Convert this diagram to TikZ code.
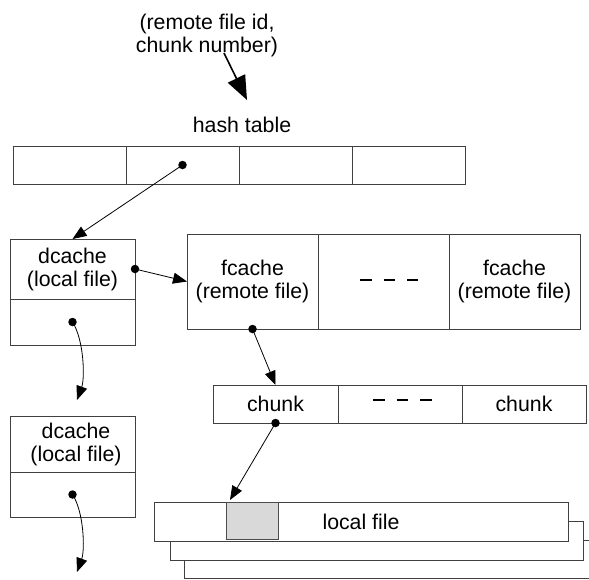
\documentclass[tikz,border=0pt]{standalone}
\usepackage{fontspec}
\setmainfont{Liberation Sans}
\usetikzlibrary{arrows.meta,calc}
\definecolor{edgegray}{HTML}{404040}
\definecolor{blockgray}{HTML}{D9D9D9}
\begin{document}
\begin{tikzpicture}[x=1pt,y=-1pt,
  every node/.style={font=\fontsize{21.3}{23}\selectfont},
  cell/.style={rectangle,draw=edgegray,line width=1pt,fill=white,
    inner sep=0pt,outer sep=0pt,align=center},
  dot/.style={circle,fill=black,draw=none,inner sep=0pt,minimum size=8.5pt},
  ptr/.style={line width=0.8pt,-{Triangle[length=14pt,width=11pt]}},
  gap/.style={line width=1.5pt,dash pattern=on 11.5pt off 12pt}]
\useasboundingbox (0,0) rectangle (589,579);
\clip (0,0) rectangle (589,579);

% lookup key and hash table
\node[align=center] (key) at (207,35) {(remote file id,\\chunk number)};
\coordinate (ks) at (224,53);
\coordinate (ke) at (247,100);
\draw[line width=1.6pt,-{Triangle[length=24pt,width=19pt]}] (ks) -- (ke);
\node (ht) at (242,125) {hash table};
\node[cell,minimum width=113pt,minimum height=38pt] (h1) at (69.5,165) {};
\node[cell,minimum width=113pt,minimum height=38pt] (h2) at (182.5,165) {};
\node[cell,minimum width=113pt,minimum height=38pt] (h3) at (295.5,165) {};
\node[cell,minimum width=113pt,minimum height=38pt] (h4) at (408.5,165) {};

% dcache entries
\node[cell,minimum width=125pt,minimum height=60pt] (d1a) at (72.5,269) {dcache\\(local file)};
\node[cell,minimum width=125pt,minimum height=46pt] (d1b) at (72.5,322) {};
\node[cell,minimum width=125pt,minimum height=56pt] (d2a) at (72.5,444) {\hspace*{7pt}dcache\\\hspace*{7pt}(local file)};
\node[cell,minimum width=125pt,minimum height=45pt] (d2b) at (72.5,494.5) {};

% fcache row
\node[cell,minimum width=131pt,minimum height=95pt] (f1) at (252.5,281.5) {fcache\\(remote file)};
\node[cell,minimum width=131pt,minimum height=95pt] (f2) at (383.5,281.5) {};
\node[cell,minimum width=131pt,minimum height=95pt] (f3) at (514.5,281.5) {fcache\\(remote file)};
\draw[gap] ($(f2.center)+(-23.5,-1.5)$) -- ($(f2.center)+(34,-1.5)$);

% chunk row
\node[cell,minimum width=125pt,minimum height=38pt] (c1) at (275.5,404) {chunk};
\node[cell,minimum width=124pt,minimum height=38pt] (c2) at (400,404) {};
\node[cell,minimum width=124pt,minimum height=38pt] (c3) at (524,404) {chunk};
\draw[gap] ($(c2.center)+(-27,-4)$) -- ($(c2.center)+(33,-4)$);

% stacked local files with the cached block
\node[cell,minimum width=414pt,minimum height=38pt] (lf3) at (391,559) {};
\node[cell,minimum width=413pt,minimum height=39pt] (lf2) at (376.5,540.5) {};
\node[cell,minimum width=414pt,minimum height=39pt] (lf) at (361,521.5) {local file};
\node[cell,fill=blockgray,draw=black!70,minimum width=52pt,minimum height=37pt] (g) at (252,520.5) {};

% pointers
\coordinate (e1) at (77,400);
\coordinate (e2) at (77,572);
\coordinate (gt) at ($(g.north west)+(4,-2)$);
\draw[ptr] (h2.center) -- (d1a.north);
\draw[ptr] (d1a.east) -- (f1.west);
\draw[ptr] (d1b.center) .. controls (84,340) and (85,378) .. (e1);
\draw[ptr] (f1.south) -- (c1.north);
\draw[ptr] (c1.south) -- (gt);
\draw[ptr] (d2b.center) .. controls (84,512) and (85,550) .. (e2);

\node[dot] (p1) at (h2.center) {};
\node[dot] (p2) at (d1a.east) {};
\node[dot] (p3) at (d1b.center) {};
\node[dot] (p4) at (f1.south) {};
\node[dot] (p5) at (c1.south) {};
\node[dot] (p6) at (d2b.center) {};
\end{tikzpicture}
\end{document}
